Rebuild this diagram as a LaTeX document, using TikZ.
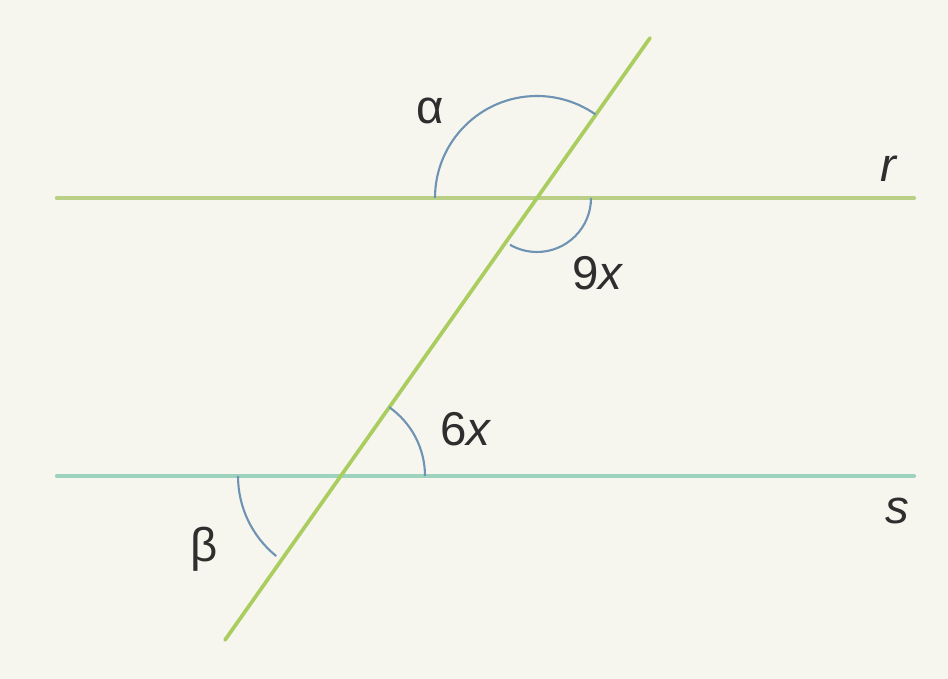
\documentclass[tikz,border=0pt]{standalone}
\usepackage{fontspec}
\setmainfont{Liberation Sans}
\usetikzlibrary{positioning}
\definecolor{paper}{HTML}{F6F5EE}
\definecolor{lineR}{HTML}{B9CF86}
\definecolor{lineS}{HTML}{9DD3BE}
\definecolor{lineT}{HTML}{A9CD5E}
\definecolor{arcBlue}{HTML}{6F93B3}
\definecolor{ink}{HTML}{2E2E2E}

\begin{document}
\begin{tikzpicture}[x=0.02cm,y=0.02cm,
  parline/.style={line width=2.4pt,line cap=round},
  anglearc/.style={arcBlue,line width=1.2pt},
  lbl/.style={ink,font=\fontsize{27}{32}\selectfont,inner sep=0pt}]
  \fill[paper] (0,0) rectangle (948,679);
  \useasboundingbox (0,0) rectangle (948,679);
  % the two parallels and the transversal
  \coordinate (r1) at (57,481);
  \coordinate (r2) at (914,481);
  \coordinate (s1) at (57,203);
  \coordinate (s2) at (914,203);
  \coordinate (t1) at (225,39);
  \coordinate (t2) at (650,641);
  \coordinate (R) at (537,481);
  \coordinate (S) at (341,203);
  \draw[parline,lineR] (r1) -- (r2);
  \draw[parline,lineS] (s1) -- (s2);
  \draw[parline,lineT,line width=2.1pt] (t1) -- (t2);
  % angle arcs
  \draw[anglearc] (R) ++(180:102) arc[start angle=180,end angle=55,radius=102];
  \draw[anglearc] (R) ++(0:54) arc[start angle=0,end angle=-120,radius=54];
  \draw[anglearc] (S) ++(0:84) arc[start angle=0,end angle=55,radius=84];
  \draw[anglearc] (S) ++(180:103) arc[start angle=180,end angle=231,radius=103];
  % labels
  \node[lbl] (alpha) at (430,568) {α};
  \node[lbl] (nine) at (598,406) {9\textit{x}};
  \node[lbl] (six) at (466,250) {6\textit{x}};
  \node[lbl] (beta) at (204,130) {β};
  \node[lbl] (rlab) at (889,510) {\textit{r}};
  \node[lbl] (slab) at (897,168) {\textit{s}};
\end{tikzpicture}
\end{document}
